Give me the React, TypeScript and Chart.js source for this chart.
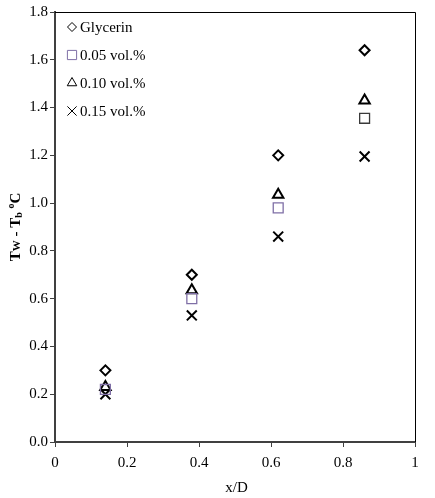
import { useEffect, useRef } from 'react';
import { Chart, registerables } from 'chart.js';
import { drawPoint } from 'chart.js/helpers';

Chart.register(...registerables);

const FONT = "'Liberation Serif', 'Times New Roman', serif";

const xPositions = [0.14, 0.38, 0.62, 0.86];
const glycerin = [0.3, 0.7, 1.2, 1.64];
const vol005 = [0.22, 0.6, 0.98, 1.355];
const vol010 = [0.23, 0.635, 1.035, 1.43];
const vol015 = [0.2, 0.53, 0.86, 1.195];

const xTicks = [0, 0.2, 0.4, 0.6, 0.8, 1];
const yTicks = [0, 0.2, 0.4, 0.6, 0.8, 1.0, 1.2, 1.4, 1.6, 1.8];

const toPoints = (ys: number[]) => ys.map((y, i) => ({ x: xPositions[i], y }));

// legend inside the plot + the thin box on top/right + rotated y title with subscripts
const extrasPlugin = {
  id: 'extras',
  afterDraw(chart: any) {
    const { ctx, chartArea } = chart;
    ctx.save();
    ctx.strokeStyle = '#000';
    ctx.lineWidth = 1;
    ctx.beginPath();
    ctx.moveTo(chartArea.left, chartArea.top + 0.5);
    ctx.lineTo(chartArea.right + 0.5, chartArea.top + 0.5);
    ctx.lineTo(chartArea.right + 0.5, chartArea.bottom);
    ctx.stroke();

    // legend
    chart.data.datasets.forEach((ds: any, i: number) => {
      const y = chartArea.top + 15 + i * 28;
      const color = Array.isArray(ds.borderColor) ? ds.borderColor[0] : ds.borderColor;
      ctx.strokeStyle = color;
      ctx.fillStyle = 'rgba(0,0,0,0)';
      ctx.lineWidth = 1;
      drawPoint(ctx, { pointStyle: ds.pointStyle, radius: ds.pointRadius - 0.5, rotation: 0, borderWidth: 1 } as any, chartArea.left + 17, y);
      ctx.fillStyle = '#000';
      ctx.font = `15px ${FONT}`;
      ctx.textBaseline = 'middle';
      ctx.textAlign = 'left';
      ctx.fillText(ds.label, chartArea.left + 25, y + 1);
    });

    // y axis title: Tw - Tb °C
    const cy = (chartArea.top + chartArea.bottom) / 2;
    ctx.translate(16, cy);
    ctx.rotate(-Math.PI / 2);
    const parts = [
      { t: 'T', f: `bold 15px ${FONT}`, dy: 0 },
      { t: 'W', f: `bold 11px ${FONT}`, dy: 1 },
      { t: ' - T', f: `bold 15px ${FONT}`, dy: 0 },
      { t: 'b', f: `bold 10px ${FONT}`, dy: 3 },
      { t: ' ', f: `bold 15px ${FONT}`, dy: 0 },
      { t: 'o', f: `bold 10px ${FONT}`, dy: -5 },
      { t: 'C', f: `bold 15px ${FONT}`, dy: 0 },
    ];
    let total = 0;
    parts.forEach((p) => {
      ctx.font = p.f;
      total += ctx.measureText(p.t).width;
    });
    let x = -total / 2;
    ctx.fillStyle = '#000';
    ctx.textBaseline = 'middle';
    ctx.textAlign = 'left';
    parts.forEach((p) => {
      ctx.font = p.f;
      ctx.fillText(p.t, x, p.dy);
      x += ctx.measureText(p.t).width;
    });
    ctx.restore();
  },
};

export default function App() {
  const canvasRef = useRef<HTMLCanvasElement | null>(null);
  const chartRef = useRef<Chart | null>(null);

  useEffect(() => {
    document.body.style.margin = '0';
    if (!canvasRef.current) return;
    if (chartRef.current) chartRef.current.destroy();

    chartRef.current = new Chart(canvasRef.current, {
      type: 'scatter',
      data: {
        datasets: [
          {
            label: 'Glycerin',
            data: toPoints(glycerin),
            pointStyle: 'rectRot',
            pointRadius: 5,
            borderColor: '#000',
            backgroundColor: 'rgba(0,0,0,0)',
            borderWidth: 2,
          },
          {
            label: '0.05 vol.%',
            data: toPoints(vol005),
            pointStyle: 'rect',
            pointRadius: 7,
            borderColor: ['#7f6fa6', '#7f6fa6', '#7f6fa6', '#3a3a3a'],
            backgroundColor: 'rgba(0,0,0,0)',
            borderWidth: 1.3,
          },
          {
            label: '0.10 vol.%',
            data: toPoints(vol010),
            pointStyle: 'triangle',
            pointRadius: 6,
            borderColor: '#000',
            backgroundColor: 'rgba(0,0,0,0)',
            borderWidth: 2,
          },
          {
            label: '0.15 vol.%',
            data: toPoints(vol015),
            pointStyle: 'crossRot',
            pointRadius: 7,
            borderColor: '#000',
            backgroundColor: 'rgba(0,0,0,0)',
            borderWidth: 2,
          },
        ] as any,
      },
      options: {
        animation: false,
        responsive: true,
        maintainAspectRatio: false,
        layout: { padding: { left: 0, top: 12, right: 20, bottom: 0 } },
        plugins: {
          legend: { display: false },
          tooltip: { enabled: false },
        },
        scales: {
          x: {
            type: 'linear',
            min: 0,
            max: 1,
            afterBuildTicks: (scale: any) => {
              scale.ticks = xTicks.map((v) => ({ value: v }));
            },
            afterFit: (scale: any) => {
              scale.height = 56;
            },
            ticks: {
              color: '#000',
              font: { family: FONT, size: 15 },
              padding: 7,
              callback: (v: any) => String(v),
            },
            grid: { drawOnChartArea: false, drawTicks: true, tickLength: 5, color: '#404040' },
            border: { color: '#404040', width: 2 },
          },
          y: {
            type: 'linear',
            min: 0,
            max: 1.8,
            afterBuildTicks: (scale: any) => {
              scale.ticks = yTicks.map((v) => ({ value: v }));
            },
            afterFit: (scale: any) => {
              scale.width = 55;
            },
            ticks: {
              color: '#000',
              font: { family: FONT, size: 15 },
              padding: 2,
              callback: (v: any) => Number(v).toFixed(1),
            },
            grid: { drawOnChartArea: false, drawTicks: true, tickLength: 5, color: '#404040' },
            border: { color: '#404040', width: 2 },
          },
        },
      },
      plugins: [extrasPlugin],
    });

    return () => {
      if (chartRef.current) {
        chartRef.current.destroy();
        chartRef.current = null;
      }
    };
  }, []);

  return (
    <div style={{ position: 'relative', width: 435, height: 498, background: '#fff' }}>
      <canvas ref={canvasRef} />
      <div
        style={{
          position: 'absolute',
          left: 0,
          right: 0,
          top: 479,
          textAlign: 'center',
          paddingLeft: 38,
          font: `15px ${FONT}`,
          lineHeight: '17px',
          color: '#000',
          pointerEvents: 'none',
        }}
      >
        x/D
      </div>
    </div>
  );
}
